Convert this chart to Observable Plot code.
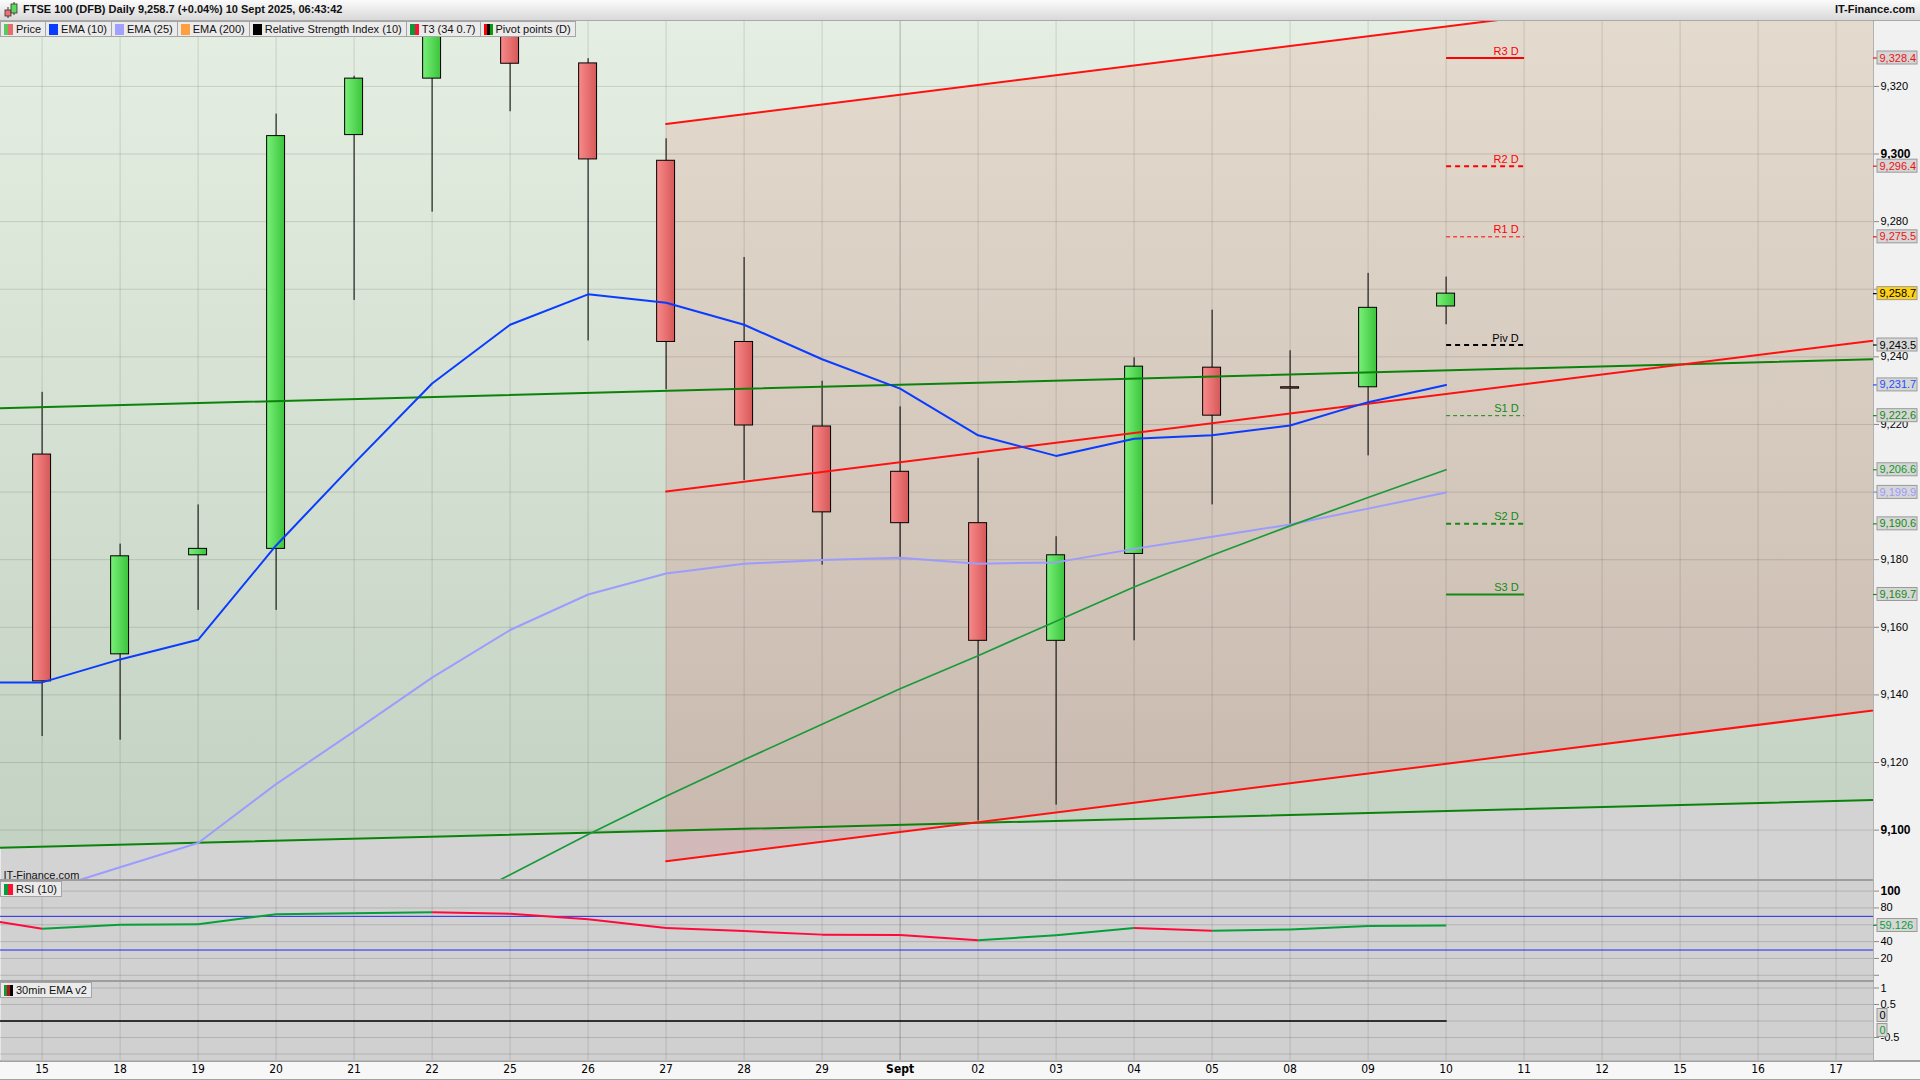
<!DOCTYPE html>
<html>
<head>
<meta charset="utf-8">
<script src="https://cdn.jsdelivr.net/npm/d3@7"></script>
<script src="https://cdn.jsdelivr.net/npm/@observablehq/plot@0.6"></script>
<style>
  html,body{margin:0;padding:0;}
  body{width:1920px;height:1080px;position:relative;overflow:hidden;background:#fff;font-family:"Liberation Sans",Arial,Helvetica,sans-serif;}
  .abs{position:absolute;}
  #header{left:0;top:0;width:1920px;height:21px;background:linear-gradient(#fbfbfb,#d9d9d9);border-bottom:1px solid #a9a9a9;box-sizing:border-box;z-index:5;}
  #title{left:23px;top:3px;font-size:11px;font-weight:bold;color:#111;white-space:nowrap;}
  #brand{right:5px;top:3px;font-size:11px;font-weight:bold;color:#111;}
  #axisbg{left:1873px;top:21px;width:47px;height:1039px;background:#f1f1f1;border-left:1px solid #8e8e8e;box-sizing:border-box;}
  #xbar{left:0;top:1060px;width:1920px;height:20px;background:#f7f7f7;border-top:2px solid #a3a3a3;border-bottom:1px solid #a3a3a3;box-sizing:border-box;}
  .panel{left:0;width:1920px;}
  .panel svg{display:block;}
  .sep{left:0;width:1873px;height:2px;background:#9d9d9d;z-index:3;}
  .legend{top:21px;left:0;display:flex;z-index:4;}
  .item{height:16px;box-sizing:border-box;border:1px solid #a5a5a5;background:#ebebeb;font-size:11px;line-height:14px;padding:0 4px 0 3px;display:flex;align-items:center;white-space:nowrap;color:#111;margin-right:-1px;}
  .sw{width:9px;height:11px;margin-right:3px;display:inline-block;flex:none;}
</style>
</head>
<body>
<div id="axisbg" class="abs"></div>
<div id="xbar" class="abs"></div>
<div id="mainPanel" class="abs panel" style="top:21px"></div>
<div id="rsiPanel" class="abs panel" style="top:880px"></div>
<div id="emaPanel" class="abs panel" style="top:981px"></div>
<div class="abs sep" style="top:879px"></div>
<div class="abs sep" style="top:980px"></div>

<div id="header" class="abs">
  <svg class="abs" style="left:3px;top:2px" width="16" height="16">
    <line x1="5" y1="5" x2="5" y2="16" stroke="#333"/><rect x="2" y="8" width="6" height="6" fill="#f07070" stroke="#333" stroke-width="0.8"/>
    <line x1="11" y1="0" x2="11" y2="13" stroke="#333"/><rect x="8" y="2" width="6" height="9" fill="#5fd85f" stroke="#333" stroke-width="0.8"/>
  </svg>
  <div id="title" class="abs">FTSE 100 (DFB) Daily 9,258.7 (+0.04%) 10 Sept 2025, 06:43:42</div>
  <div id="brand" class="abs">IT-Finance.com</div>
</div>

<div class="abs legend">
  <div class="item"><span class="sw" style="background:linear-gradient(90deg,#5cc85c 50%,#e86a6a 50%)"></span>Price</div>
  <div class="item"><span class="sw" style="background:#0a3cff"></span>EMA (10)</div>
  <div class="item"><span class="sw" style="background:#a0a0ff"></span>EMA (25)</div>
  <div class="item"><span class="sw" style="background:#ffa040"></span>EMA (200)</div>
  <div class="item"><span class="sw" style="background:#000"></span>Relative Strength Index (10)</div>
  <div class="item"><span class="sw" style="background:linear-gradient(90deg,#0a9a3a 50%,#ff1030 50%)"></span>T3 (34 0.7)</div>
  <div class="item"><span class="sw" style="background:linear-gradient(90deg,#ff0000 33%,#000 33%,#000 66%,#0a9a0a 66%)"></span>Pivot points (D)</div>
</div>
<div class="abs legend" style="top:881px">
  <div class="item"><span class="sw" style="background:linear-gradient(90deg,#0a9a3a 50%,#ff1030 50%)"></span>RSI (10)</div>
</div>
<div class="abs legend" style="top:982px">
  <div class="item"><span class="sw" style="background:linear-gradient(90deg,#0a9a3a 33%,#c01010 33%,#c01010 66%,#000 66%)"></span>30min EMA v2</div>
</div>

<script>
// ---------------- DATA ----------------
const dateLabels = ["15","18","19","20","21","22","25","26","27","28","29","Sept","02","03","04","05","08","09","10","11","12","15","16","17"];

// daily candles, 15 Aug .. 10 Sept
const candleOpen  = [9211.1, 9152.0, 9181.3, 9183.2, 9305.6, 9322.3, 9347.0, 9326.8, 9298.0, 9244.4, 9219.4, 9206.0, 9190.8, 9156.0, 9181.7, 9236.8, 9231.0, 9231.0, 9254.9];
const candleHigh  = [9229.5, 9184.6, 9196.2, 9311.8, 9323.0, 9357.0, 9352.0, 9328.2, 9304.5, 9269.4, 9232.8, 9225.2, 9210.0, 9186.8, 9239.7, 9253.8, 9241.8, 9264.7, 9263.6];
const candleLow   = [9127.7, 9126.6, 9165.0, 9165.0, 9256.7, 9282.8, 9312.5, 9244.7, 9230.3, 9203.4, 9178.4, 9180.6, 9102.7, 9107.4, 9156.0, 9196.2, 9190.4, 9210.7, 9249.5];
const candleClose = [9144.0, 9181.0, 9183.2, 9305.3, 9322.3, 9347.0, 9326.7, 9298.4, 9244.4, 9219.7, 9194.0, 9190.8, 9156.0, 9181.3, 9237.1, 9222.6, 9230.6, 9254.5, 9258.7];

// indicator series start one session earlier (14 Aug, index -1)
const seriesStart = -1;
const ema10 = [9143.7, 9143.7, 9150.5, 9156.3, 9184.2, 9208.5, 9232.1, 9249.5, 9258.5, 9256.0, 9249.5, 9239.3, 9230.6, 9216.8, 9210.7, 9215.8, 9216.8, 9219.7, 9226.6, 9231.7];
const ema25 = [9072.0, 9081.8, 9089.0, 9096.2, 9113.6, 9129.2, 9145.1, 9159.2, 9169.7, 9175.9, 9178.8, 9179.9, 9180.6, 9178.8, 9179.2, 9183.2, 9186.8, 9190.4, 9195.1, 9199.9];
const rsi10 = [70.1, 55.3, 60.0, 60.6, 72.6, 73.7, 74.9, 73.0, 66.7, 56.1, 52.5, 48.3, 47.9, 41.6, 47.5, 56.1, 53.0, 54.5, 58.5, 59.126];
const ema30minLine = [0,0,0,0,0,0,0,0,0,0,0,0,0,0,0,0,0,0,0,0];
const ema30minHist = [0,0,0,0,0,0,0,0,0,0,0,0,0,0,0,0,0,0,0,0];

// T3 (34 0.7) from 22 Aug (index 5)
const t3Start = 5;
const t3 = [9075.0, 9086.8, 9098.7, 9110.0, 9120.8, 9131.3, 9141.8, 9151.6, 9161.8, 9171.9, 9181.3, 9190.0, 9198.4, 9206.6];

// daily pivot points for 10 Sept
const pivotNames  = ["R3 D","R2 D","R1 D","Piv D","S1 D","S2 D","S3 D"];
const pivotValues = [9328.4, 9296.4, 9275.5, 9243.5, 9222.6, 9190.6, 9169.7];

// trend lines [session index, price]
const trendGreenUpper = [[-1, 9224.5], [24, 9239.6]];
const trendGreenLower = [[-1, 9094.5], [24, 9109.2]];
const trendRedUpper   = [[8, 9308.9], [24, 9355.0]];
const trendRedMiddle  = [[8, 9200.2], [24, 9246.3]];
const trendRedLower   = [[8, 9090.8], [24, 9136.9]];

const priceTicks = [9100, 9120, 9140, 9160, 9180, 9200, 9220, 9240, 9260, 9280, 9300, 9320];
const priceTicksHidden = [9200, 9260]; // labels covered by value boxes in the reference
const rsiTicks = [100, 80, 60, 40, 20, 0];
const emaTicks = [1, 0.5, 0, -0.5, -1];

// ---------------- LAYOUT ----------------
const W = 1920, AXW = 47, plotW = W - AXW;
const dayPx = 78, firstDayPx = 41.6;
const xDomain = [-firstDayPx / dayPx, (plotW - firstDayPx) / dayPx];
const pxX = px => xDomain[0] + px * (xDomain[1] - xDomain[0]) / plotW;
const mainH = 859, rsiH = 100, emaH = 79, xbarH = 20;
const yMain = [9085.1, 9339.2];
const yRsi = [-6.2, 112.6];
const yEma = [-1.197, 1.197];
const font = "'Liberation Sans', Arial, sans-serif";
const grid = "#000", gridOp = 0.12;
const sessions = d3.range(dateLabels.length);

const svgNS = "http://www.w3.org/2000/svg";
function addDefs(svg, html) {
  const d = document.createElementNS(svgNS, "defs");
  d.innerHTML = html;
  svg.insertBefore(d, svg.firstChild);
}
const common = (h, mb = 0) => ({
  width: W, height: h + mb, marginLeft: 0, marginRight: AXW, marginTop: 0, marginBottom: mb,
  style: {background: "none", overflow: "visible", fontFamily: font, fontSize: "11px"},
  color: {type: "identity"}
});

// ---------------- MAIN PANEL ----------------
const pts = arr => arr.map(([i, v]) => ({i, v}));
const series = (arr, start) => arr.map((v, k) => ({i: start + k, v}));
const candles = candleOpen.map((o, i) => ({i, open: o, high: candleHigh[i], low: candleLow[i], close: candleClose[i]}));
const lastI = candles.length - 1;
const gU = pts(trendGreenUpper), gL = pts(trendGreenLower);
const rU = pts(trendRedUpper), rM = pts(trendRedMiddle), rL = pts(trendRedLower);
const channel = rU.map((d, k) => ({i: d.i, top: d.v, bottom: rL[k].v}));
const greenZone = gL.map(d => ({i: d.i, lo: d.v, hi: yMain[1] + 40}));
const halfBody = 0.115;

const pivotStyles = [
  {c: "#ff0000", w: 2, dash: null},
  {c: "#ff0000", w: 2, dash: "5,4"},
  {c: "#ff0000", w: 1, dash: "4,3"},
  {c: "#000000", w: 2, dash: "5,4"},
  {c: "#138a13", w: 1, dash: "4,3"},
  {c: "#138a13", w: 2, dash: "5,4"},
  {c: "#138a13", w: 2, dash: null}
];
const pivots = pivotValues.map((v, k) => ({v, name: pivotNames[k], ...pivotStyles[k]}));

const boxes = [
  ...pivots.map(p => ({v: p.v, fg: p.c === "#000000" ? "#000" : (p.c === "#ff0000" ? "#ee1111" : "#138a13"), bg: "#d6d6d6"})),
  {v: candleClose[lastI], fg: "#000", bg: "#ffd21a"},
  {v: ema10[ema10.length - 1], fg: "#1f4dff", bg: "#d6d6d6"},
  {v: ema25[ema25.length - 1], fg: "#9a9aff", bg: "#d6d6d6"},
  {v: t3[t3.length - 1], fg: "#12992a", bg: "#d6d6d6"}
];
const pxPerPt = mainH / (yMain[1] - yMain[0]);
const hhMain = 6.5 / pxPerPt;
const fmt1 = d3.format(",.1f");
const tickLabel = d => priceTicksHidden.includes(d) ? "" : d3.format(",")(d);

const mainPlot = Plot.plot({
  ...common(mainH),
  x: {type: "linear", domain: xDomain, axis: null, label: null},
  y: {domain: yMain, label: null},
  marks: [
    Plot.frame({fill: "#d3d3d3"}),
    Plot.areaY(greenZone, {x: "i", y1: "lo", y2: "hi", fill: "url(#greenGrad)", clip: true}),
    Plot.areaY(channel, {x: "i", y1: "bottom", y2: "top", fill: "url(#chanGrad)", clip: true}),
    Plot.ruleY(priceTicks, {stroke: grid, strokeOpacity: gridOp}),
    Plot.ruleX(sessions.filter(i => i !== 11), {stroke: grid, strokeOpacity: gridOp}),
    Plot.ruleX([11], {stroke: grid, strokeOpacity: 0.25}),
    // candles
    Plot.ruleX(candles, {x: "i", y1: "low", y2: "high", stroke: "#000", strokeWidth: 1, clip: true}),
    Plot.rect(candles.filter(d => d.close >= d.open), {x1: d => d.i - halfBody, x2: d => d.i + halfBody, y1: "open", y2: "close", fill: "url(#upGrad)", stroke: "#000", strokeWidth: 1, clip: true}),
    Plot.rect(candles.filter(d => d.close < d.open), {x1: d => d.i - halfBody, x2: d => d.i + halfBody, y1: "open", y2: "close", fill: "url(#downGrad)", stroke: "#000", strokeWidth: 1, clip: true}),
    // trend lines
    Plot.line(gU, {x: "i", y: "v", stroke: "#0b830b", strokeWidth: 2, clip: true}),
    Plot.line(gL, {x: "i", y: "v", stroke: "#0b830b", strokeWidth: 2, clip: true}),
    Plot.line(rU, {x: "i", y: "v", stroke: "#ff1010", strokeWidth: 2, clip: true}),
    Plot.line(rM, {x: "i", y: "v", stroke: "#ff1010", strokeWidth: 2, clip: true}),
    Plot.line(rL, {x: "i", y: "v", stroke: "#ff1010", strokeWidth: 2, clip: true}),
    // indicators
    Plot.line(series(ema25, seriesStart), {x: "i", y: "v", stroke: "#9c9cff", strokeWidth: 2, clip: true}),
    Plot.line(series(t3, t3Start), {x: "i", y: "v", stroke: "#1a9a3a", strokeWidth: 1.7, clip: true}),
    Plot.line(series(ema10, seriesStart), {x: "i", y: "v", stroke: "#0a3cff", strokeWidth: 2, clip: true}),
    // pivots
    ...pivots.map(p => Plot.link([p], {x1: lastI, x2: lastI + 1.0, y1: "v", y2: "v", stroke: p.c, strokeWidth: p.w, strokeDasharray: p.dash || undefined})),
    Plot.text(pivots, {x: lastI + 0.93, y: "v", text: "name", fill: "c", textAnchor: "end", dy: -7, fontSize: 11}),
    // watermark
    Plot.text(["IT-Finance.com"], {frameAnchor: "bottom-left", text: d => d, dx: 3, dy: -2, textAnchor: "start", lineAnchor: "bottom", fontSize: 11, fill: "#111"}),
    // right axis
    Plot.axisY(priceTicks.filter(t => t % 100 !== 0), {anchor: "right", label: null, tickSize: 5, tickPadding: 2, tickFormat: tickLabel, fontSize: 11, stroke: "#888", fill: "#000"}),
    Plot.axisY(priceTicks.filter(t => t % 100 === 0), {anchor: "right", label: null, tickSize: 5, tickPadding: 2, tickFormat: tickLabel, fontSize: 12, fontWeight: "bold", stroke: "#888", fill: "#000"}),
    Plot.ruleY(boxes, {y: "v", x1: pxX(plotW), x2: pxX(plotW + 5), stroke: "fg", strokeWidth: 1.2}),
    Plot.rect(boxes, {x1: pxX(plotW + 4), x2: pxX(plotW + 44), y1: d => d.v - hhMain, y2: d => d.v + hhMain, fill: "bg", stroke: "#9a9a9a", strokeWidth: 1}),
    Plot.text(boxes, {x: pxX(plotW + 6), y: "v", text: d => fmt1(d.v), fill: "fg", textAnchor: "start", fontSize: 11})
  ]
});
addDefs(mainPlot, `
  <linearGradient id="greenGrad" gradientUnits="userSpaceOnUse" x1="0" y1="0" x2="0" y2="${mainH}">
    <stop offset="0" stop-color="#e5eee2"/><stop offset="1" stop-color="#c2d1c1"/></linearGradient>
  <linearGradient id="chanGrad" gradientUnits="userSpaceOnUse" x1="0" y1="0" x2="0" y2="${mainH}">
    <stop offset="0" stop-color="rgb(225,174,161)" stop-opacity="0.30"/><stop offset="1" stop-color="rgb(209,137,138)" stop-opacity="0.36"/></linearGradient>
  <linearGradient id="upGrad" x1="0" y1="0" x2="1" y2="0">
    <stop offset="0" stop-color="#78f078"/><stop offset="1" stop-color="#3cc43c"/></linearGradient>
  <linearGradient id="downGrad" x1="0" y1="0" x2="1" y2="0">
    <stop offset="0" stop-color="#f98a8a"/><stop offset="1" stop-color="#d65858"/></linearGradient>`);
document.getElementById("mainPanel").appendChild(mainPlot);

// ---------------- RSI PANEL ----------------
const rsiPts = series(rsi10, seriesStart);
const rsiSegs = d3.pairs(rsiPts).map(([a, b]) => ({x1: a.i, y1: a.v, x2: b.i, y2: b.v, up: b.v >= a.v}));
const hhRsi = 6.5 / (rsiH / (yRsi[1] - yRsi[0]));
const rsiBox = [{v: rsi10[rsi10.length - 1]}];
const rsiPlot = Plot.plot({
  ...common(rsiH),
  x: {type: "linear", domain: xDomain, axis: null, label: null},
  y: {domain: yRsi, label: null},
  marks: [
    Plot.frame({fill: "#d1d1d1"}),
    Plot.ruleY(rsiTicks, {stroke: grid, strokeOpacity: 0.14}),
    Plot.ruleX(sessions.filter(i => i !== 11), {stroke: grid, strokeOpacity: gridOp}),
    Plot.ruleX([11], {stroke: grid, strokeOpacity: 0.25}),
    Plot.ruleY([70, 30], {stroke: "#2626ee", strokeWidth: 1}),
    Plot.link(rsiSegs.filter(d => !d.up), {x1: "x1", y1: "y1", x2: "x2", y2: "y2", stroke: "#ff0a3c", strokeWidth: 2, clip: true}),
    Plot.link(rsiSegs.filter(d => d.up), {x1: "x1", y1: "y1", x2: "x2", y2: "y2", stroke: "#06a03a", strokeWidth: 2, clip: true}),
    Plot.axisY([80, 40, 20], {anchor: "right", label: null, tickSize: 5, tickPadding: 2, fontSize: 11, stroke: "#888", fill: "#000"}),
    Plot.axisY([100], {anchor: "right", label: null, tickSize: 5, tickPadding: 2, fontSize: 12, fontWeight: "bold", stroke: "#888", fill: "#000"}),
    Plot.axisY([60, 0], {anchor: "right", label: null, tickSize: 5, tickFormat: () => "", stroke: "#888"}),
    Plot.ruleY(rsiBox, {y: "v", x1: pxX(plotW), x2: pxX(plotW + 5), stroke: "#06a03a"}),
    Plot.rect(rsiBox, {x1: pxX(plotW + 4), x2: pxX(plotW + 44), y1: d => d.v - hhRsi, y2: d => d.v + hhRsi, fill: "#d6d6d6", stroke: "#9a9a9a"}),
    Plot.text(rsiBox, {x: pxX(plotW + 6), y: "v", text: d => d3.format(".3f")(d.v), fill: "#06a03a", textAnchor: "start", fontSize: 11})
  ]
});
document.getElementById("rsiPanel").appendChild(rsiPlot);

// ---------------- 30min EMA PANEL + X AXIS ----------------
const hhEma = 6.5 / (emaH / (yEma[1] - yEma[0]));
const emaBoxes = [
  {v: ema30minLine[ema30minLine.length - 1], fg: "#000", dy: -5.5},
  {v: ema30minHist[ema30minHist.length - 1], fg: "#12992a", dy: 9.5}
];
const xFont = "'Liberation Sans Narrow', 'DejaVu Sans Condensed', 'Arial Narrow', sans-serif";
const emaPlot = Plot.plot({
  ...common(emaH, xbarH),
  x: {type: "linear", domain: xDomain, label: null},
  y: {domain: yEma, label: null},
  marks: [
    Plot.frame({fill: "#d0d0d0"}),
    Plot.ruleY(emaTicks, {stroke: grid, strokeOpacity: 0.14}),
    Plot.ruleX(sessions.filter(i => i !== 11), {stroke: grid, strokeOpacity: gridOp}),
    Plot.ruleX([11], {stroke: grid, strokeOpacity: 0.25}),
    Plot.ruleX(series(ema30minHist, seriesStart), {x: "i", y1: 0, y2: "v", stroke: "#12992a"}),
    Plot.line(series(ema30minLine, seriesStart), {x: "i", y: "v", stroke: "#000", strokeWidth: 1.6, clip: true}),
    Plot.axisY([1, 0.5, -0.5], {anchor: "right", label: null, tickSize: 5, tickPadding: 2, tickFormat: d => String(d), fontSize: 11, stroke: "#888", fill: "#000"}),
    ...emaBoxes.map(b => Plot.rect([b], {x1: pxX(plotW + 4), x2: pxX(plotW + 14), y1: d => d.v - hhEma, y2: d => d.v + hhEma, dy: b.dy, fill: "#d6d6d6", stroke: "#9a9a9a"})),
    ...emaBoxes.map(b => Plot.text([b], {x: pxX(plotW + 6), y: "v", text: d => String(d.v), dy: b.dy, fill: b.fg, textAnchor: "start", fontSize: 11})),
    Plot.axisX(sessions.filter(i => i !== 11), {anchor: "bottom", label: null, tickSize: 0, tickPadding: 4, tickFormat: i => dateLabels[i], fontSize: 12, fontFamily: xFont, fill: "#000"}),
    Plot.axisX([11], {anchor: "bottom", label: null, tickSize: 0, tickPadding: 4, tickFormat: i => dateLabels[i], fontSize: 12, fontWeight: "bold", fontFamily: xFont, fill: "#000"})
  ]
});
document.getElementById("emaPanel").appendChild(emaPlot);
</script>
</body>
</html>
